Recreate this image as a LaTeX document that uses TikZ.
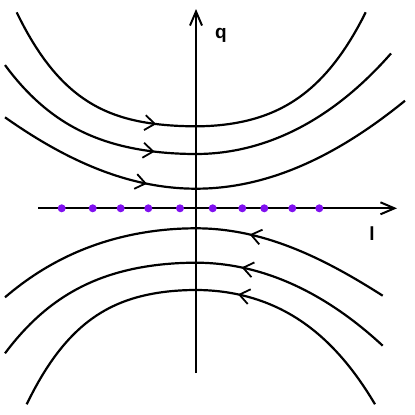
\documentclass[tikz,border=0pt]{standalone}
\usepackage{fontspec}
\newfontfamily\labfont{Liberation Sans}
\usetikzlibrary{arrows.meta,decorations.markings}
\definecolor{dotviolet}{RGB}{128,16,240}
\tikzset{
  declare function={pq(\d,\a,\b)=\a*(\d/100)*(\d/100)+\b*(\d/100)*(\d/100)*(\d/100)*(\d/100);},
  axisline/.style={line width=2.1pt,-{Straight Barb[length=14pt,width=12pt,line width=2pt]}},
  flow/.style={line width=2.2pt,samples=90},
  flowarrow/.style={postaction={decorate,decoration={markings,
      mark=at position #1 with {\arrow{Straight Barb[length=10pt,width=15pt,line width=1.8pt]}}}}},
  violetdot/.style={circle,fill=dotviolet,inner sep=0pt,minimum size=8pt},
  axlabel/.style={font=\labfont\bfseries\fontsize{19}{19}\selectfont,inner sep=0pt}
}
\begin{document}
\begin{tikzpicture}[x=1pt,y=-1pt]
\useasboundingbox (0,0) rectangle (415,415);
% axes
\coordinate (hl) at (38,208.3);
\coordinate (hr) at (397,208.3);
\coordinate (vb) at (196,373);
\coordinate (vt) at (196,9);
\draw[axisline] (hl) -- (hr);
\draw[axisline] (vb) -- (vt);
\node[axlabel] (q) at (221,35) {q};
\node[axlabel] (l) at (372,234) {l};
% dots
\foreach \x [count=\i] in {61.7,92.7,120.7,148.3,180,212.7,242.3,264.3,292.3,319.3}
  \node[violetdot] (d\i) at (\x,208.3) {};
% upper curves (left to right)
\draw[flow,flowarrow=0.422] plot[domain=-179.3:169.7] ({196+\x},{126.3-((\x<0)?pq(\x,13.13,6.94):pq(\x,20,6.8))});
\draw[flow,flowarrow=0.40] plot[domain=-191:195] ({196+\x},{154-((\x<0)?pq(\x,13.25,3.05):pq(\x,23.7,0.72))});
\draw[flow,flowarrow=0.36] plot[domain=-191:209] ({196+\x},{188.7-((\x<0)?pq(\x,20.66,-0.3):pq(\x,20.82,-0.155))});
% lower curves (right to left)
\draw[flow,flowarrow=0.36] plot[domain=-186.7:191] ({196-\x},{228.3+((\x<0)?pq(\x,21.59,-0.647):pq(\x,15.36,0.975))});
\draw[flow,flowarrow=0.38] plot[domain=-186.7:191] ({196-\x},{262.7+((\x<0)?pq(\x,22.79,0.292):pq(\x,14.66,2.79))});
\draw[flow,flowarrow=0.41] plot[domain=-179:169.3] ({196-\x},{290+((\x<0)?pq(\x,24.16,3.59):pq(\x,18.38,7.5))});
\end{tikzpicture}
\end{document}
